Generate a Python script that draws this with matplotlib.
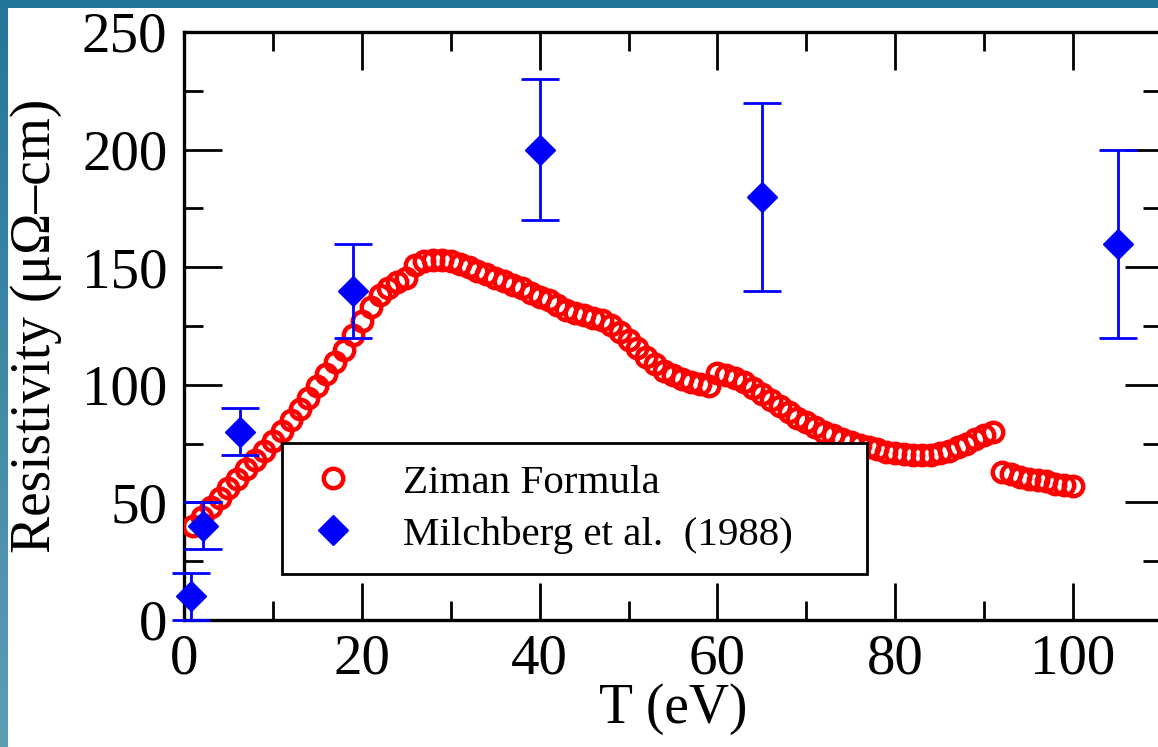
import numpy as np
import matplotlib.pyplot as plt
from matplotlib.patches import Rectangle
from matplotlib.lines import Line2D
from matplotlib.colors import LinearSegmentedColormap
from matplotlib.ticker import MultipleLocator


OUTPUT_PATH = "out.png"

# Ziman formula (T in eV, resistivity in micro-ohm cm)
ziman_t = list(range(1, 101))
ziman_rho = [
    40, 44, 48, 52, 56, 60, 64, 68, 72, 76,
    80.5, 85, 89.5, 94.5, 99.5, 104.5, 109.5, 115, 121, 127,
    133, 138, 141, 143.5, 145.5, 151, 152.5, 153, 153, 152.5,
    151.5, 150, 148.5, 147, 145.5, 144, 142.5, 141, 139, 137.5,
    136, 134, 132, 130.5, 129.5, 128.5, 127.5, 125.5, 122.5, 119,
    115.5, 112, 109, 106, 104, 102.5, 101, 100.5, 99.5, 105,
    104, 103, 101, 98.5, 96, 93.5, 91, 88.5, 86, 84,
    82, 80, 78.5, 77, 75.5, 74.5, 73.5, 72.5, 71.5, 71,
    70.5, 70, 70, 70, 71, 72, 73.5, 75, 77, 78.5,
    80, 63, 62, 61, 60, 59.5, 59, 58, 57.5, 57,
]

# Milchberg et al. (1988) measurements
milch_t = [0.8, 2.1, 6.3, 19.0, 40.0, 65.0, 105.0]
milch_rho = [10, 40, 80, 140, 200, 180, 160]
milch_err = [10, 10, 10, 20, 30, 40, 40]

SERIF = ["Liberation Serif", "DejaVu Serif"]
RED = "#ff0000"
BLUE = "#0000ff"


def draw_frame(fig):
    # slide-style teal stripes on the left and top edge
    cmap = LinearSegmentedColormap.from_list("stripe", ["#23769a", "#5e9db4"])
    ax_strip = fig.add_axes([0, 0, 8 / 1158, 1])
    ax_strip.imshow(np.linspace(0, 1, 256).reshape(-1, 1), cmap=cmap, aspect="auto")
    ax_strip.axis("off")
    fig.add_artist(Rectangle((0, 1 - 8 / 747), 1, 8 / 747, transform=fig.transFigure,
                             facecolor="#23769a", edgecolor="none"))


def plot_resistivity():
    plt.rcParams["font.family"] = SERIF

    fig = plt.figure(figsize=(11.58, 7.47), dpi=100)
    draw_frame(fig)

    ax = fig.add_axes([184 / 1158, 127 / 747, 978 / 1158, 588 / 747])

    circle_style = dict(linestyle="none", marker="o", markersize=14, markerfacecolor="none",
                        markeredgecolor=RED, markeredgewidth=3.2)
    diamond_style = dict(linestyle="none", marker="D", markersize=15, color=BLUE)

    ax.plot(ziman_t, ziman_rho, zorder=3, **circle_style)
    ax.errorbar(milch_t, milch_rho, yerr=milch_err, fmt="none", ecolor=BLUE,
                elinewidth=2.0, capsize=14, capthick=2.0, zorder=4, clip_on=False)
    ax.plot(milch_t, milch_rho, zorder=5, clip_on=False, **diamond_style)

    ax.set_xlim(0, 110)
    ax.set_ylim(0, 250)
    ax.xaxis.set_major_locator(MultipleLocator(20))
    ax.xaxis.set_minor_locator(MultipleLocator(10))
    ax.yaxis.set_major_locator(MultipleLocator(50))
    ax.yaxis.set_minor_locator(MultipleLocator(25))
    ax.tick_params(which="both", direction="in", top=True, right=True, width=2.0,
                   labelsize=41, color="black")
    ax.tick_params(which="major", length=27)
    ax.tick_params(which="minor", length=14)
    ax.tick_params(axis="y", pad=12)
    ax.tick_params(axis="x", pad=10)
    for spine in ax.spines.values():
        spine.set_linewidth(2.4)

    ax.set_xlabel("T (eV)", fontsize=40, labelpad=-2)
    ax.set_ylabel("Resistivity (\u03bc\u03a9\u2013cm)", fontsize=40, labelpad=14)

    handles = [Line2D([], [], **circle_style), Line2D([], [], **diamond_style)]
    labels = ["Ziman Formula", "Milchberg et al.  (1988)"]
    leg = ax.legend(handles, labels, loc="lower left", bbox_to_anchor=(0.100, 0.078, 0.598, 0.223),
                    mode="expand", borderaxespad=0, fontsize=29.5, frameon=True, fancybox=False,
                    handlelength=1.5, handletextpad=0.95, borderpad=0.5, labelspacing=0.35,
                    numpoints=1)
    leg.get_frame().set_edgecolor("black")
    leg.get_frame().set_linewidth(2.0)
    leg.get_frame().set_alpha(1)
    leg.set_zorder(10)

    fig.savefig(OUTPUT_PATH, dpi=100)


if __name__ == "__main__":
    plot_resistivity()
